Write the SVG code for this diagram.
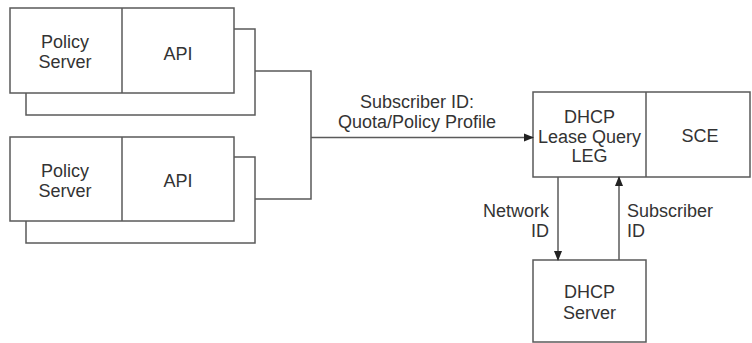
<svg xmlns="http://www.w3.org/2000/svg" width="752" height="343" viewBox="0 0 752 343">
<style>
.box{fill:#fff;stroke:#5a5a5a;stroke-width:1.5}
.ln{fill:none;stroke:#5a5a5a;stroke-width:1.5}
text{font-family:"Liberation Sans",Arial,sans-serif;font-size:18px;fill:#333}
.c{text-anchor:middle}
.r{text-anchor:end}
</style>
<defs>
<marker id="ah" markerWidth="10" markerHeight="10" refX="9" refY="5" orient="auto" markerUnits="userSpaceOnUse">
<path d="M0,1 L10,5 L0,9 Z" fill="#222"/>
</marker>
</defs>
<g id="policy1">
<rect class="box" x="26" y="29" width="229" height="86"/>
<rect class="box" x="10" y="8" width="224" height="85"/>
<line class="ln" x1="122" y1="8" x2="122" y2="93"/>
<text class="c" x="65" y="48">Policy</text>
<text class="c" x="65" y="68">Server</text>
<text class="c" x="178" y="60">API</text>
</g>
<g id="policy2">
<rect class="box" x="26" y="157" width="229" height="86"/>
<rect class="box" x="10" y="137" width="224" height="84"/>
<line class="ln" x1="122" y1="137" x2="122" y2="221"/>
<text class="c" x="65" y="177">Policy</text>
<text class="c" x="65" y="197">Server</text>
<text class="c" x="178" y="187">API</text>
</g>
<g id="sce">
<rect class="box" x="533" y="92" width="217" height="85"/>
<line class="ln" x1="646" y1="92" x2="646" y2="177"/>
<text class="c" x="589.5" y="123">DHCP</text>
<text class="c" x="589.5" y="143">Lease Query</text>
<text class="c" x="589.5" y="162">LEG</text>
<text class="c" x="700" y="142">SCE</text>
</g>
<g id="dhcp">
<rect class="box" x="533" y="260" width="113" height="82"/>
<text class="c" x="589.5" y="298">DHCP</text>
<text class="c" x="589.5" y="319">Server</text>
</g>
<g id="connectors">
<polyline class="ln" points="255,71 311,71 311,199 255,199"/>
<line class="ln" x1="311" y1="137.5" x2="533" y2="137.5" marker-end="url(#ah)"/>
<line class="ln" x1="558" y1="177" x2="558" y2="260" marker-end="url(#ah)"/>
<line class="ln" x1="619" y1="260" x2="619" y2="177" marker-end="url(#ah)"/>
<text class="c" x="417" y="108">Subscriber ID:</text>
<text class="c" x="417" y="128">Quota/Policy Profile</text>
<text class="r" x="549" y="217">Network</text>
<text class="r" x="549" y="237">ID</text>
<text x="627" y="217">Subscriber</text>
<text x="627" y="237">ID</text>
</g>
</svg>
